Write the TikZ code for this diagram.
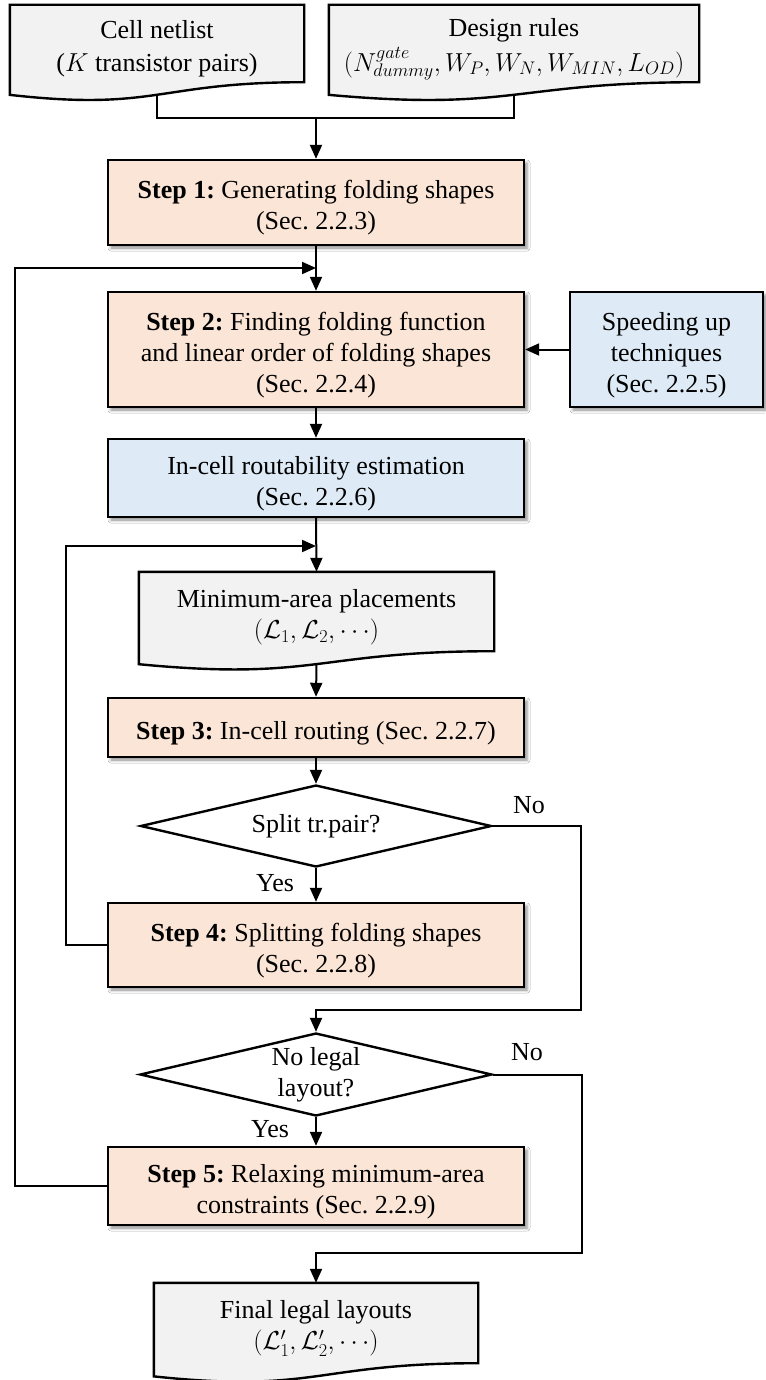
\RequirePackage{fix-cm}
\documentclass[tikz,border=0pt]{standalone}
\usepackage{fontspec}
\setmainfont{Liberation Serif}
\usetikzlibrary{arrows.meta,calc,shapes.geometric,shadows.blur,backgrounds}

\definecolor{stepfill}{HTML}{FBE5D6}
\definecolor{infofill}{HTML}{DEEBF7}
\definecolor{docfill}{HTML}{F2F2F2}

% extra height on a first line, to sit the text a little low in its box
\newcommand\topstrut{\rule{0pt}{29pt}}

\tikzset{
  every node/.style={font=\fontsize{26}{31}\selectfont\frenchspacing},
  stepbox/.style={draw, line width=2.4pt, fill=stepfill, minimum width=416pt,
    align=center, inner sep=0pt,
    blur shadow={shadow xshift=3pt, shadow yshift=-3pt, shadow blur radius=3pt, shadow opacity=45}},
  infobox/.style={stepbox, fill=infofill},
  docnode/.style={align=center, inner sep=0pt},
  docline/.style={draw, line width=2.4pt, fill=docfill},
  decision/.style={diamond, draw, line width=2.4pt, fill=white, aspect=4.3,
    align=center, inner sep=0pt},
  arr/.style={line width=2pt, -{Triangle[length=14pt,width=12pt]}},
  plain/.style={line width=2pt},
  lbl/.style={inner sep=0pt}
}

% Document shape: straight top and sides, wavy bottom edge.
% #1 = node holding the text (its box is the upper part), #2 = full height
\newcommand\docoutline[2]{%
  \path let \p1=(#1.south west), \p2=(#1.south east), \p3=(#1.south) in
    [docline] (#1.north west) -- (#1.north east) -- (#1.south east)
    .. controls (\x3,\y2) and (\x3,{\y2-0.3055*#2pt}) .. (\x1,{\y1-0.132*#2pt}) -- cycle
    (\x3,{\y2-0.131*#2pt}) coordinate (#1-b);
}

\begin{document}
\begin{tikzpicture}[x=1pt, y=-1pt]
\useasboundingbox (0,0) rectangle (765,1380);

% inputs
\node[docnode, minimum width=294pt, minimum height=77pt] (cell) at (157,43.5)
  {\topstrut Cell netlist\\[2pt]($K$ transistor pairs)};
\node[docnode, minimum width=370pt, minimum height=77pt] (design) at (514,43.5)
  {\topstrut Design rules\\[4pt]$(N^{gate}_{dummy},W_P,W_N,W_{MIN},L_{OD})$};

% main column
\node[stepbox, minimum height=85pt] (step1) at (316,202.5)
  {\topstrut\textbf{Step 1:} Generating folding shapes\\(Sec. 2.2.3)};
\node[stepbox, minimum height=115pt] (step2) at (316,349.5)
  {\topstrut\textbf{Step 2:} Finding folding function\\and linear order of folding shapes\\(Sec. 2.2.4)};
\node[infobox, minimum width=193pt, minimum height=115pt] (speed) at (666.5,349.5)
  {\topstrut Speeding up\\techniques\\(Sec. 2.2.5)};
\node[infobox, minimum height=78pt] (incell) at (316,478)
  {\topstrut In-cell routability estimation\\(Sec. 2.2.6)};
\node[docnode, minimum width=355pt, minimum height=79pt] (minarea) at (316.5,611.5)
  {\topstrut Minimum-area placements\\$(\mathcal{L}_1,\mathcal{L}_2,\cdots)$};
\node[stepbox, minimum height=59pt] (step3) at (316,727.5)
  {\topstrut\textbf{Step 3:} In-cell routing (Sec. 2.2.7)};
\node[decision, minimum width=351pt, minimum height=82pt] (d1) at (316,826)
  {Split tr.pair?};
\node[stepbox, minimum height=84pt] (step4) at (316,945)
  {\topstrut\textbf{Step 4:} Splitting folding shapes\\(Sec. 2.2.8)};
\node[decision, minimum width=352pt, minimum height=83pt] (d2) at (316,1074.5)
  {No legal\\layout?};
\node[stepbox, minimum height=78pt] (step5) at (316,1186)
  {\topstrut\textbf{Step 5:} Relaxing minimum-area\\constraints (Sec. 2.2.9)};
\node[docnode, minimum width=324pt, minimum height=80pt] (final) at (316,1323)
  {\topstrut Final legal layouts\\$(\mathcal{L}'_1,\mathcal{L}'_2,\cdots)$};

% page background and wavy document outlines behind the texts
\begin{scope}[on background layer]
  \fill[white] (0,0) rectangle (765,1380);
  \docoutline{cell}{96}
  \docoutline{design}{96}
  \docoutline{minarea}{98.5}
  \docoutline{final}{99.75}
\end{scope}

% branch labels
\node[lbl] (no1) at (529,805) {No};
\node[lbl] (yes1) at (275,883) {Yes};
\node[lbl] (no2) at (527,1052) {No};
\node[lbl] (yes2) at (270,1129) {Yes};

% junction points
\coordinate (j0) at (316,118);
\coordinate (j1) at (316,268);
\coordinate (j2) at (316,546);
\coordinate (r1) at (581,1010);
\coordinate (r2) at (582,1253);

% connectors
\draw[plain] (cell-b) |- (j0);
\draw[plain] (design-b) |- (j0);
\draw[arr] (j0) -- (step1.north);
\draw[arr] (step1.south) -- (step2.north);
\draw[arr] (speed.west) -- (step2.east);
\draw[arr] (step2.south) -- (incell.north);
\draw[arr] (incell.south) -- (minarea.north);
\draw[arr] (minarea-b) -- (step3.north);
\draw[arr] (step3.south) -- (d1.north);
\draw[arr] (d1.south) -- (step4.north);
\draw[arr] (d1.east) -| (r1) -| (d2.north);
\draw[arr] (d2.south) -- (step5.north);
\draw[arr] (d2.east) -| (r2) -| (final.north);
\draw[arr] (step4.west) -- ++(-41,0) |- (j2);
\draw[arr] (step5.west) -- ++(-92,0) |- (j1);
\end{tikzpicture}
\end{document}
